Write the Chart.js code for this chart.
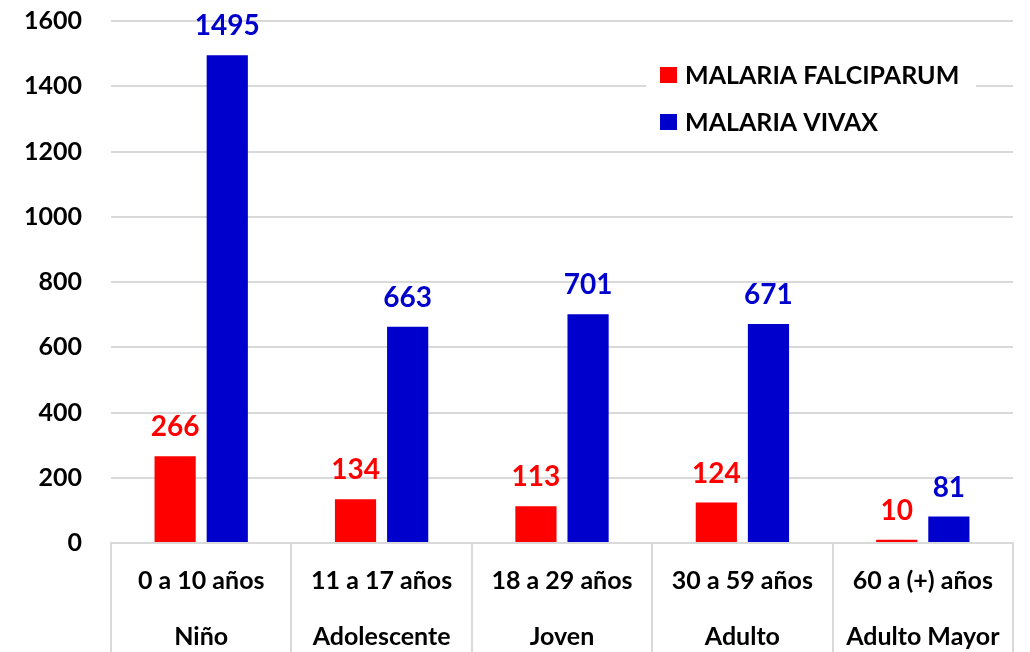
<!DOCTYPE html>
<html>
<head>
<meta charset="utf-8">
<script src="https://cdn.jsdelivr.net/npm/chart.js@4/dist/chart.umd.min.js"></script>
<style>
  html, body { margin: 0; padding: 0; background: #fff; overflow: hidden; }
  #wrap { width: 1030px; height: 652px; position: relative; }
</style>
</head>
<body>
<div id="wrap"><canvas id="chart"></canvas></div>
<script>
// datos del gráfico
const categories = [
  ['0 a 10 años', 'Niño'],
  ['11 a 17 años', 'Adolescente'],
  ['18 a 29 años', 'Joven'],
  ['30 a 59 años', 'Adulto'],
  ['60 a (+) años', 'Adulto Mayor']
];
const falciparum = [266, 134, 113, 124, 10];
const vivax = [1495, 663, 701, 671, 81];
const seriesNames = ['MALARIA FALCIPARUM', 'MALARIA VIVAX'];
const yTicks = [0, 200, 400, 600, 800, 1000, 1200, 1400, 1600];

const FONT = "Lato, 'Open Sans', sans-serif";
const RED = '#ff0000';
const BLUE = '#0000cc';
const GRID = '#d9d9d9';

// etiquetas de valor sobre las barras
const valueLabels = {
  id: 'valueLabels',
  afterDatasetsDraw(chart) {
    const ctx = chart.ctx;
    ctx.save();
    ctx.font = 'bold 28px ' + FONT;
    ctx.textAlign = 'center';
    ctx.textBaseline = 'middle';
    chart.data.datasets.forEach((ds, i) => {
      const meta = chart.getDatasetMeta(i);
      ctx.fillStyle = ds.backgroundColor;
      meta.data.forEach((bar, j) => {
        ctx.fillText(String(ds.data[j]), bar.x, bar.y - 29);
      });
    });
    ctx.restore();
  }
};

// leyenda dentro del área del gráfico
const innerLegend = {
  id: 'innerLegend',
  afterDraw(chart) {
    const ctx = chart.ctx;
    const area = chart.chartArea;
    const x = area.right - 353;
    const y0 = area.top + 54;
    ctx.save();
    ctx.fillStyle = '#fff';
    ctx.fillRect(x - 14, y0 - 22, 330, 92);
    ctx.font = 'bold 25px ' + FONT;
    ctx.textBaseline = 'middle';
    chart.data.datasets.forEach((ds, i) => {
      const y = y0 + i * 47;
      ctx.fillStyle = ds.backgroundColor;
      ctx.fillRect(x, y - 8, 17, 16);
      ctx.fillStyle = '#000';
      ctx.fillText(ds.label, x + 25, y + 1);
    });
    ctx.restore();
  }
};

new Chart(document.getElementById('chart'), {
  type: 'bar',
  data: {
    labels: categories,
    datasets: [
      { label: seriesNames[0], data: falciparum, backgroundColor: RED },
      { label: seriesNames[1], data: vivax, backgroundColor: BLUE }
    ]
  },
  options: {
    responsive: true,
    maintainAspectRatio: false,
    animation: false,
    layout: { padding: { top: 21, right: 17, bottom: 0, left: 0 } },
    datasets: {
      bar: { categoryPercentage: 0.578, barPercentage: 0.79 }
    },
    plugins: {
      legend: { display: false },
      tooltip: { enabled: false }
    },
    scales: {
      x: {
        afterFit(scale) {
          scale.height = 109;
          scale.paddingLeft = 0;
          scale.paddingRight = 0;
        },
        grid: {
          offset: true,
          drawOnChartArea: false,
          drawTicks: true,
          tickLength: 110,
          color: GRID,
          lineWidth: 2
        },
        border: { display: true, color: GRID, width: 2 },
        ticks: {
          color: '#000',
          padding: -100,
          maxRotation: 0,
          autoSkip: false,
          font: { family: FONT, size: 25, weight: 'bold', lineHeight: 56 / 25 }
        }
      },
      y: {
        min: 0,
        max: 1600,
        afterBuildTicks(scale) {
          scale.ticks = yTicks.map(v => ({ value: v }));
        },
        afterFit(scale) {
          scale.width = 111;
          scale.paddingTop = 0;
          scale.paddingBottom = 0;
        },
        grid: { color: GRID, lineWidth: 2, drawTicks: false },
        border: { display: false },
        ticks: {
          color: '#000',
          padding: 29,
          callback: v => String(v),
          font: { family: FONT, size: 25, weight: 'bold' }
        }
      }
    }
  },
  plugins: [valueLabels, innerLegend]
});
</script>
</body>
</html>
